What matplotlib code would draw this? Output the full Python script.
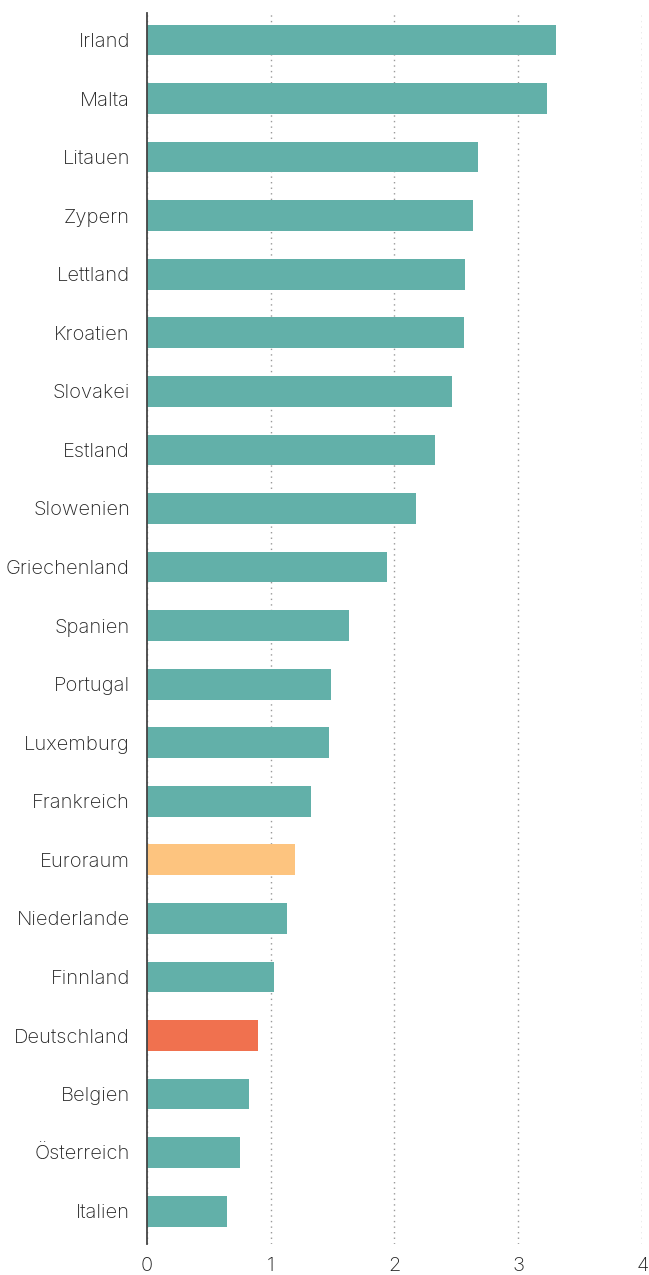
import matplotlib.pyplot as plt
import numpy as np

plt.rcParams['font.family'] = ['Inter', 'DejaVu Sans']
plt.rcParams['font.weight'] = 'light'

countries = ['Irland', 'Malta', 'Litauen', 'Zypern', 'Lettland', 'Kroatien',
             'Slovakei', 'Estland', 'Slowenien', 'Griechenland', 'Spanien',
             'Portugal', 'Luxemburg', 'Frankreich', 'Euroraum', 'Niederlande',
             'Finnland', 'Deutschland', 'Belgien', 'Österreich', 'Italien']
values = [3.30, 3.23, 2.67, 2.63, 2.57, 2.56, 2.46, 2.33, 2.17, 1.94, 1.63,
          1.49, 1.47, 1.33, 1.20, 1.13, 1.03, 0.90, 0.83, 0.75, 0.65]

teal = '#62b0a9'
colors = []
for c in countries:
    if c == 'Euroraum':
        colors.append('#fdc47f')
    elif c == 'Deutschland':
        colors.append('#f0714f')
    else:
        colors.append(teal)

fig = plt.figure(figsize=(6.49, 12.75), dpi=100)
ax = fig.add_axes([0.2259, 0.0243, 0.9898 - 0.2259, 0.9898 - 0.0243])

y = np.arange(len(countries))
ax.barh(y, values, height=0.525, color=colors, zorder=2)

ax.set_ylim(len(countries) - 1 + 0.56, -0.46)
ax.set_xlim(0, 4)
ax.set_xticks([0, 1, 2, 3, 4])
ax.set_yticks(y)
ax.set_yticklabels(countries)

ax.grid(axis='x', linestyle=(0, (1, 3)), color='#999999', linewidth=1, zorder=1)
ax.grid(axis='y', visible=False)

for s in ['top', 'right', 'bottom']:
    ax.spines[s].set_visible(False)
ax.spines['left'].set_color('#444444')
ax.spines['left'].set_linewidth(1.3)
ax.spines['left'].set_zorder(3)

ax.tick_params(axis='both', length=0, labelsize=14.5, labelcolor='#222222')
ax.tick_params(axis='y', pad=12)
ax.tick_params(axis='x', pad=9)

fig.savefig('out.png', dpi=100)
